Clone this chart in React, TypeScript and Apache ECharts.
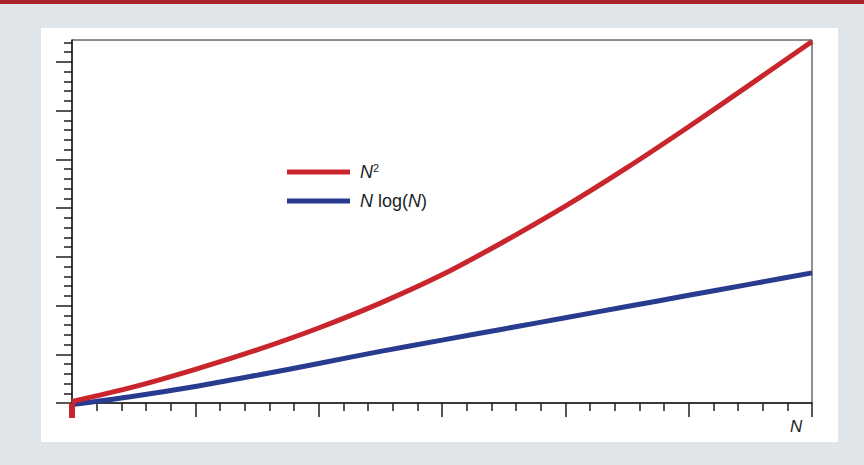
import React, { useEffect, useRef } from "react";
import * as echarts from "echarts";

// ---- data ----
const xValues = [0, 0.5, 1, 1.5, 2, 2.5, 3, 3.5, 4, 4.5, 5, 5.5, 6];
const nSquared = [0.03, 0.33, 0.69, 1.09, 1.54, 2.05, 2.63, 3.31, 4.04, 4.83, 5.67, 6.54, 7.42];
const nLogN = [-0.03, 0.14, 0.34, 0.57, 0.81, 1.06, 1.29, 1.52, 1.75, 1.98, 2.21, 2.44, 2.67];
const seriesNames = ["N²", "N log(N)"];
const yMajorTicks = [0, 1, 2, 3, 4, 5, 6, 7];
const yMinorTicks = [
  0.2, 0.4, 0.6, 0.8, 1.2, 1.4, 1.6, 1.8, 2.2, 2.4, 2.6, 2.8, 3.2, 3.4, 3.6, 3.8,
  4.2, 4.4, 4.6, 4.8, 5.2, 5.4, 5.6, 5.8, 6.2, 6.4, 6.6, 6.8, 7.2, 7.4,
];
const originTick = [0];
const xAxisTitle = "N";

const RED = "#c8252c";
const BLUE = "#293b8e";
const INK = "#1e1e1e";
const FONT = "'Liberation Sans', Arial, Helvetica, sans-serif";

export default function App() {
  const ref = useRef<HTMLDivElement>(null);

  useEffect(() => {
    if (!ref.current) return;
    const chart = echarts.init(ref.current, undefined, { renderer: "svg" });

    const axisLine = { show: true, lineStyle: { color: INK, width: 1.5 } };
    const tickLine = { color: INK, width: 1.5 };

    const option: any = {
      animation: false,
      backgroundColor: "#dfe5e8",
      textStyle: { fontFamily: FONT },
      graphic: [
        { type: "rect", z: -10, shape: { x: 0, y: 0, width: 864, height: 4 }, style: { fill: "#a9252b" } },
        { type: "rect", z: -10, shape: { x: 41, y: 28, width: 797, height: 414 }, style: { fill: "#ffffff" } },
        {
          type: "text",
          x: 790,
          y: 418,
          style: { text: xAxisTitle, font: `italic 17px ${FONT}`, fill: INK },
        },
      ],
      grid: {
        left: 72,
        top: 40,
        width: 740,
        height: 363,
        show: true,
        borderColor: INK,
        borderWidth: 1,
        backgroundColor: "transparent",
      },
      legend: {
        orient: "vertical",
        left: 287,
        top: 162,
        padding: 0,
        icon: "rect",
        itemWidth: 63,
        itemHeight: 5,
        itemGap: 9,
        selectedMode: false,
        data: seriesNames,
        formatter: (name: string) =>
          name === seriesNames[0] ? "{i|N}{sup|2}" : "{i|N}{r| log(}{i|N}{r|)}",
        textStyle: {
          color: INK,
          fontSize: 18,
          lineHeight: 20,
          padding: [0, 0, 0, 5],
          rich: {
            i: { fontStyle: "italic", fontSize: 18, lineHeight: 20, color: INK, fontFamily: FONT },
            r: { fontSize: 18, lineHeight: 20, color: INK, fontFamily: FONT },
            sup: { fontSize: 11, lineHeight: 7, verticalAlign: "top", color: INK, fontFamily: FONT },
          },
        },
      },
      xAxis: [
        {
          type: "value",
          min: 0,
          max: 6,
          interval: 1,
          axisLine,
          axisTick: { show: true, length: 14, lineStyle: tickLine },
          minorTick: { show: true, splitNumber: 5, length: 8, lineStyle: tickLine },
          axisLabel: { show: false },
          splitLine: { show: false },
          minorSplitLine: { show: false },
        },
        {
          type: "value",
          min: 0,
          max: 6,
          position: "bottom",
          z: 10,
          axisLine: { show: false },
          axisTick: { show: true, length: 15, customValues: originTick, lineStyle: { color: RED, width: 6 } },
          axisLabel: { show: false },
          splitLine: { show: false },
        },
      ],
      yAxis: [
        {
          type: "value",
          min: 0,
          max: 7.45,
          position: "left",
          axisLine,
          axisTick: { show: true, length: 16, customValues: yMajorTicks, lineStyle: tickLine },
          axisLabel: { show: false },
          splitLine: { show: false },
        },
        {
          type: "value",
          min: 0,
          max: 7.45,
          position: "left",
          offset: 0,
          axisLine: { show: false },
          axisTick: { show: true, length: 8, customValues: yMinorTicks, lineStyle: tickLine },
          axisLabel: { show: false },
          splitLine: { show: false },
        },
      ],
      series: [
        {
          name: seriesNames[0],
          type: "line",
          xAxisIndex: 0,
          yAxisIndex: 0,
          data: xValues.map((x, i) => [x, nSquared[i]]),
          showSymbol: false,
          smooth: 0.3,
          clip: false,
          color: RED,
          lineStyle: { color: RED, width: 5 },
          z: 3,
        },
        {
          name: seriesNames[1],
          type: "line",
          xAxisIndex: 0,
          yAxisIndex: 0,
          data: xValues.map((x, i) => [x, nLogN[i]]),
          showSymbol: false,
          smooth: 0.3,
          clip: false,
          color: BLUE,
          lineStyle: { color: BLUE, width: 5 },
          z: 2,
        },
      ],
    };

    chart.setOption(option);
    return () => chart.dispose();
  }, []);

  return (
    <div
      ref={ref}
      style={{ position: "fixed", left: 0, top: 0, width: 864, height: 465 }}
    />
  );
}
